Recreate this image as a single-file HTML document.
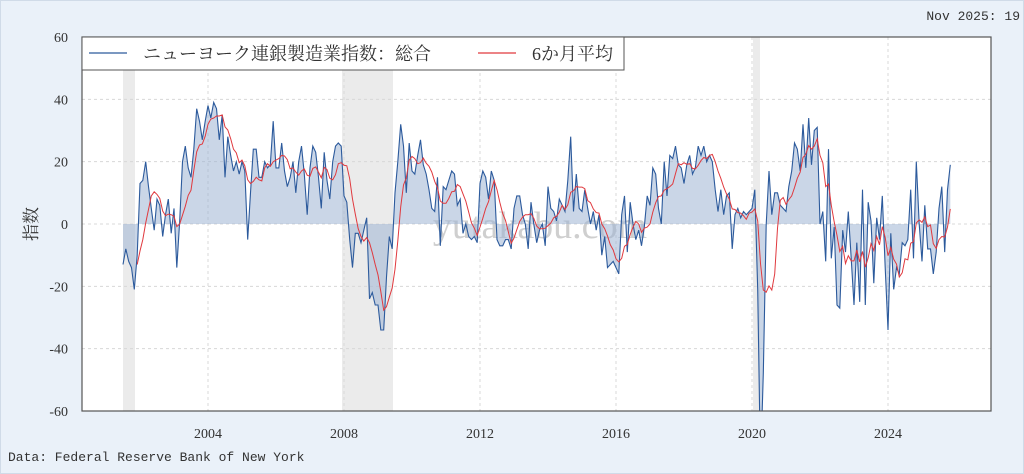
<!DOCTYPE html>
<html><head><meta charset="utf-8"><style>
body{margin:0;width:1024px;height:474px;background:#eaf1f9;overflow:hidden;font-family:"Liberation Serif","Noto Serif CJK SC",serif;}
svg{display:block}
</style></head><body>
<svg id="s" width="1024" height="474" xmlns="http://www.w3.org/2000/svg">
<rect x="0.5" y="0.5" width="1023" height="473" fill="#eaf1f9" stroke="#d0dbe8"/>
<rect x="82" y="37" width="909" height="374" fill="#fff"/>
<rect x="123" y="37" width="12" height="374" fill="#ebebeb"/>
<rect x="342" y="37" width="51" height="374" fill="#ebebeb"/>
<rect x="753" y="37" width="7" height="374" fill="#ebebeb"/>
<g id="grid" stroke="#d8d8d8" stroke-dasharray="3,3" stroke-width="1"></g>
<text x="540" y="238" font-size="38" fill="#cfcfcf" text-anchor="middle" font-family="Liberation Serif,serif">yutakabu.com</text>
<g id="data"></g>
<rect x="82" y="37" width="909" height="374" fill="none" stroke="#555" stroke-width="1.2"/>
<rect x="82" y="37" width="542" height="33" fill="#fff" stroke="#555" stroke-width="1"/>
<line x1="89" y1="53" x2="127" y2="53" stroke="#2c5a9c" stroke-width="1.2"/>
<text x="143" y="60" font-size="18" fill="#333">ニューヨーク連銀製造業指数：総合</text>
<line x1="478" y1="53" x2="516" y2="53" stroke="#e0393e" stroke-width="1.2"/>
<text x="532" y="60" font-size="18" fill="#333">6か月平均</text>
<g id="lab" font-size="14" fill="#333"></g>
<text x="1020" y="20" font-size="13" fill="#333" text-anchor="end" font-family="Liberation Mono,monospace">Nov 2025: 19</text>
<text x="8" y="461" font-size="13" fill="#333" font-family="Liberation Mono,monospace">Data: Federal Reserve Bank of New York</text>
<text transform="translate(37,224) rotate(-90)" font-size="17" fill="#333" text-anchor="middle" font-family="Noto Serif CJK SC,serif">指数</text>
<defs><clipPath id="c"><rect x="82" y="37" width="909" height="374"/></clipPath></defs>
</svg>
<script>
var v=[-13,-8,-12,-14,-21,-10,
13,14,20,12,5,-2,8,6,-4,3,8,-3,
5,-14,1,20,25,18,15,24,37,33,27,33,
38,34,39,37,27,35,15,28,22,17,20,16,
20,17,-5,10,24,24,15,15,20,18,19,33,
18,18,26,17,12,15,20,10,20,25,16,3,
18,25,23,15,5,23,14,8,20,25,26,25,
9,7,-5,-14,-3,-3,-6,-2,2,-24,-22,-26,
-26,-34,-34,-17,-4,-8,10,20,32,25,10,26,
17,16,22,27,19,16,11,5,4,15,-7,12,
11,14,17,16,6,8,-3,0,-4,-5,-4,-6,
13,17,15,8,17,14,-5,-7,-7,-5,-5,-8,
5,9,9,3,0,-8,7,0,-6,-2,0,-7,
12,5,4,1,8,6,4,14,28,4,16,5,
4,11,5,0,4,-2,3,-10,-4,-14,-13,-12,
-14,-16,3,9,-9,7,0,-5,-2,-7,-1,9,
6,18,16,5,0,20,9,22,21,25,19,18,
13,19,22,16,18,25,22,25,20,22,20,11,
4,11,3,9,10,-8,3,5,2,4,3,4,
5,11,-21,-78,-48,-0.2,17,3,10,10,6,5,
4,12,17,26,24,17,32,18,34,19,30,31,
0,4,-12,24,-11,-1,-26,-27,-2,-9,4,-11,
-26,-6,-25,11,-26,7,1,-19,2,-5,9,-14,
-34,-3,-21,-14,-16,-6,-7,-5,11,-11,20,0,
-12,6,-8,-8,-16,-9,5,12,-9,11,19];
var X=i=>123+i*34/12, Y=u=>224-u*374/120;
var s='',g='',l='';
for(var k=-60;k<=60;k+=20){var y=Y(k);if(k>-60&&k<60)g+=`<line x1="82" x2="991" y1="${y}" y2="${y}"/>`;l+=`<text x="68" y="${y+5}" text-anchor="end">${k}</text>`;}
for(var yr=2004;yr<=2024;yr+=4){var x=208+(yr-2004)*34;g+=`<line x1="${x}" x2="${x}" y1="37" y2="411"/>`;l+=`<text x="${x}" y="438" text-anchor="middle">${yr}</text>`;}
document.getElementById('grid').innerHTML=g;document.getElementById('lab').innerHTML=l;
var p=v.map((u,i)=>X(i).toFixed(1)+','+Y(u).toFixed(1)).join(' ');
var area='M'+X(0)+','+Y(0)+' L'+p+' L'+X(v.length-1)+','+Y(0)+'Z';
var m=[];for(var i=5;i<v.length;i++){var a=0;for(var j=i-5;j<=i;j++)a+=v[j];m.push(X(i).toFixed(1)+','+Y(a/6).toFixed(1));}
document.getElementById('data').innerHTML=`<g clip-path="url(#c)"><path d="${area}" fill="#9fb4d3" fill-opacity="0.55"/><polyline points="${p}" fill="none" stroke="#2c5a9c" stroke-width="1.1"/><polyline points="${m.join(' ')}" fill="none" stroke="#e0393e" stroke-width="1"/></g>`;
</script>
</body></html>
